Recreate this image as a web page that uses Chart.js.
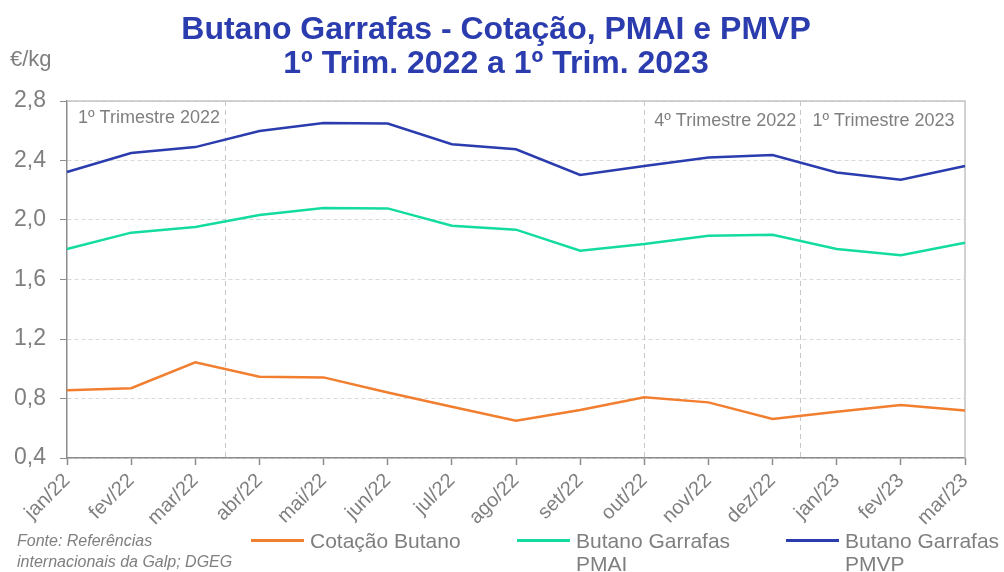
<!DOCTYPE html>
<html>
<head>
<meta charset="utf-8">
<script src="https://cdn.jsdelivr.net/npm/chart.js@4"></script>
<style>
  html, body { margin: 0; padding: 0; background: #fff; }
  #wrap { position: relative; width: 1004px; height: 572px; font-family: "Liberation Sans", Arial, sans-serif; color: #7f7f7f; }
  #chart { position: absolute; left: 0; top: 0; }
  .title { position: absolute; left: 0; width: 992px; text-align: center; color: #2b3cae; font-weight: bold; font-size: 32px; line-height: 36px; }
  .unit { position: absolute; left: 10px; top: 46px; font-size: 22px; }
  .source { position: absolute; left: 17px; top: 530px; font-size: 16px; font-style: italic; line-height: 21px; }
  .leg { position: absolute; top: 529px; font-size: 21px; line-height: 23px; }
  .leg span.sw { position: absolute; left: 0; top: 10px; width: 53px; height: 3px; }
  .leg span.tx { position: absolute; left: 59px; top: 0; white-space: nowrap; }
</style>
</head>
<body>
<div id="wrap">
  <canvas id="chart" width="1004" height="572"></canvas>
  <div class="title" style="top:10px">Butano Garrafas - Cotação, PMAI e PMVP</div>
  <div class="title" style="top:44px">1º Trim. 2022 a 1º Trim. 2023</div>
  <div class="unit">€/kg</div>
  <div class="source">Fonte: Referências<br>internacionais da Galp; DGEG</div>
  <div class="leg" style="left:251px"><span class="sw" style="background:#f27e30"></span><span class="tx">Cotação Butano</span></div>
  <div class="leg" style="left:517px"><span class="sw" style="background:#14dca0"></span><span class="tx">Butano Garrafas<br>PMAI</span></div>
  <div class="leg" style="left:786px"><span class="sw" style="background:#2b3cae"></span><span class="tx">Butano Garrafas<br>PMVP</span></div>
</div>
<script>
// Data
const months = ['jan/22', 'fev/22', 'mar/22', 'abr/22', 'mai/22', 'jun/22', 'jul/22', 'ago/22',
  'set/22', 'out/22', 'nov/22', 'dez/22', 'jan/23', 'fev/23', 'mar/23'];
const cotacao = [0.855, 0.869, 1.043, 0.947, 0.942, 0.84, 0.745, 0.651, 0.723, 0.808, 0.774, 0.662, 0.711, 0.756, 0.72];
const pmai = [1.805, 1.915, 1.953, 2.034, 2.081, 2.078, 1.962, 1.935, 1.794, 1.839, 1.894, 1.9, 1.805, 1.763, 1.847];
const pmvp = [2.323, 2.45, 2.49, 2.598, 2.652, 2.648, 2.509, 2.475, 2.303, 2.363, 2.42, 2.437, 2.32, 2.27, 2.363];
const yTicks = [0.4, 0.8, 1.2, 1.6, 2.0, 2.4, 2.8];

// Quarter separators (category index) and their labels
const quarterLines = [2.47, 9, 11.42];
const quarterLabels = ['1º Trimestre 2022', '4º Trimestre 2022', '1º Trimestre 2023'];

const FONT = '"Liberation Sans", Arial, sans-serif';
const GREY = '#7f7f7f';

// Box around plot, quarter separators and labels
const quarterPlugin = {
  id: 'quarters',
  beforeDatasetsDraw(chart) {
    const { ctx, chartArea: a, scales: { x } } = chart;
    ctx.save();
    ctx.strokeStyle = '#c4c4c4';
    ctx.lineWidth = 1.5;
    ctx.beginPath();
    ctx.moveTo(a.left, a.top);
    ctx.lineTo(a.right, a.top);
    ctx.lineTo(a.right, a.bottom);
    ctx.stroke();

    ctx.strokeStyle = '#c8c8c8';
    ctx.lineWidth = 1;
    ctx.setLineDash([5, 4]);
    quarterLines.forEach(q => {
      const px = Math.round(x.getPixelForValue(q)) + 0.5;
      ctx.beginPath();
      ctx.moveTo(px, a.top);
      ctx.lineTo(px, a.bottom);
      ctx.stroke();
    });
    ctx.setLineDash([]);

    ctx.fillStyle = GREY;
    ctx.font = '18px ' + FONT;
    ctx.textBaseline = 'middle';
    const labelX = [a.left + 11, x.getPixelForValue(quarterLines[1]) + 10, x.getPixelForValue(quarterLines[2]) + 13];
    quarterLabels.forEach((t, i) => {
      ctx.fillText(t, labelX[i], a.top + (i === 0 ? 17 : 20));
    });
    ctx.restore();
  }
};

function lineSet(label, data, color) {
  return {
    label: label,
    data: data,
    borderColor: color,
    backgroundColor: color,
    borderWidth: 2.5,
    pointRadius: 0,
    tension: 0,
    fill: false
  };
}

new Chart(document.getElementById('chart').getContext('2d'), {
  type: 'line',
  data: {
    labels: months,
    datasets: [
      lineSet('Cotação Butano', cotacao, '#f27e30'),
      lineSet('Butano Garrafas PMAI', pmai, '#14dca0'),
      lineSet('Butano Garrafas PMVP', pmvp, '#2b3cae')
    ]
  },
  options: {
    responsive: false,
    animation: false,
    layout: { padding: { top: 101, right: 39, left: 0, bottom: 0 } },
    plugins: {
      legend: { display: false },
      title: { display: false },
      tooltip: { enabled: false }
    },
    scales: {
      x: {
        offset: false,
        afterFit(scale) { scale.height = 114; },
        border: { color: '#8c8c8c', width: 1.5 },
        grid: { drawOnChartArea: false, drawTicks: true, tickLength: 7, tickColor: '#8c8c8c', tickWidth: 1.5 },
        ticks: {
          color: GREY,
          font: { family: FONT, size: 20 },
          minRotation: 45,
          maxRotation: 45,
          autoSkip: false,
          padding: 4
        }
      },
      y: {
        min: 0.4,
        max: 2.8,
        afterFit(scale) { scale.width = 67; },
        afterBuildTicks(scale) { scale.ticks = yTicks.map(v => ({ value: v })); },
        border: { color: '#8c8c8c', width: 1.5, dash: [4, 3] },
        grid: { color: '#d9d9d9', tickLength: 7, tickColor: '#8c8c8c', tickBorderDash: [] },
        ticks: {
          color: GREY,
          font: { family: FONT, size: 23 },
          padding: 14,
          callback: v => v.toFixed(1).replace('.', ',')
        }
      }
    }
  },
  plugins: [quarterPlugin]
});
</script>
</body>
</html>
